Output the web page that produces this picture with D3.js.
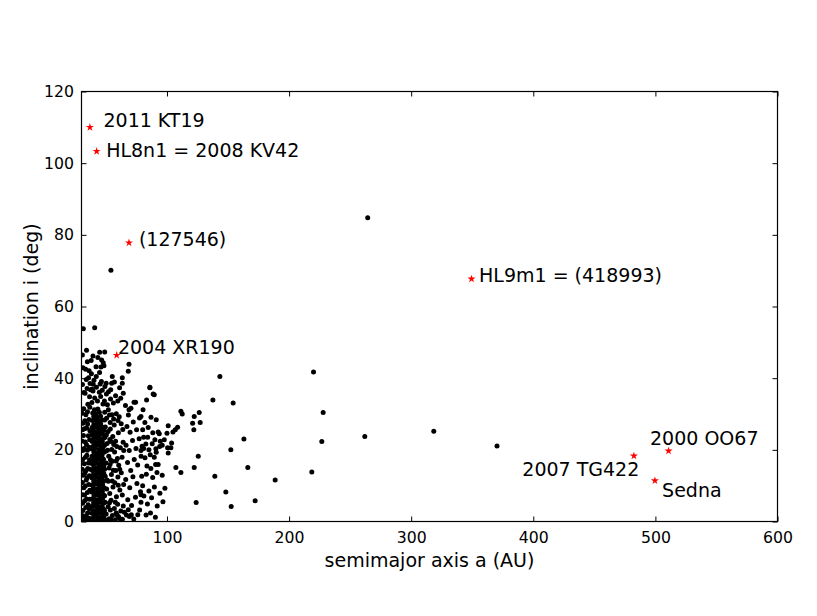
<!DOCTYPE html>
<html>
<head>
<meta charset="utf-8">
<script src="https://cdn.jsdelivr.net/npm/d3@7"></script>
<style>
  body { margin: 0; background: #fff; }
  text { font-family: "DejaVu Sans", sans-serif; }
</style>
</head>
<body>
<svg id="chart" width="817" height="616"></svg>
<script>
// axis ticks
const xTicks = [100, 200, 300, 400, 500, 600];
const yTicks = [0, 20, 40, 60, 80, 100, 120];

// isolated objects far from the main clump
const farObjects = [
  [264.4, 84.8], [54.1, 70.1], [220, 41.7], [227.9, 30.4], [226.8, 22.3], [262, 23.7],
  [318.5, 25.2], [370.3, 21.1], [218.6, 13.8], [188.6, 11.6], [143.3, 40.5], [137.6, 33.9],
  [154.2, 33.1], [163, 23.0], [152.3, 20.0], [166.2, 15.1], [139.2, 12.6], [148.2, 8.2],
  [172.2, 5.8], [152.6, 4.2], [123.9, 5.3]
];

// scattered disk objects, a 75 - 130 AU
const midObjects = [
  [86, 37.5], [89.6, 35.4], [111.4, 30.8], [112.5, 30.0], [122.3, 29.3], [126.4, 30.4],
  [91.2, 28.4], [121, 27.4], [127.2, 27.6], [122, 25.6], [78.7, 29.3], [108.7, 26.3],
  [106.8, 25.6], [104.9, 25.0], [101, 26.7], [100, 24.6], [92.8, 25.0], [93.7, 24.5],
  [80.1, 25.6], [80.9, 23.5], [84.2, 23.5], [90.1, 22.8], [94.5, 22.4], [97.8, 22.8],
  [103.8, 21.9], [96.1, 21.3], [94, 20.9], [90.9, 20.3], [103.2, 20.6], [100.5, 20.6],
  [80.9, 20.4], [85.2, 20.0], [78.7, 19.8], [101, 19.1], [91.2, 19.3], [89.6, 17.9],
  [82, 17.8], [125.6, 18.2], [83.6, 15.5], [90.7, 15.9], [92.8, 15.9], [107.3, 15.1],
  [122.3, 15.1], [111.4, 13.7], [91.8, 13.7], [88.3, 12.3], [96.1, 12.9], [79.3, 12.6],
  [80.1, 10.0], [85.2, 8.5], [78.7, 7.5], [96.7, 5.5], [92, 4.3], [78.7, 5.4], [86, 37.3],
  [88.7, 35.6], [74.3, 33.3], [68.9, 31.2],
  [81.9, 27.6], [84.6, 26.2], [86.9, 29.1], [88.4, 24.8], [82.7, 21.6], [86.3, 18.6],
  [87.9, 21.7], [83.1, 13.2], [86.8, 14.8], [81.1, 7.1], [84, 4.9], [87.4, 6.6],
  [89.7, 9.6], [82.9, 1.8], [86.5, 2.4], [90.5, 1.2], [94.2, 7.9], [98.3, 9.3],
  [80.4, 31.2], [83.3, 33.9]
];

// high-inclination objects above the main band
const highObjects = [
  [31.5, 53.8], [40.8, 54.1], [31.2, 42.9], [33.4, 42.5], [39.4, 46.2], [44.9, 47.2],
  [49, 47.3], [47.8, 44.3], [48.4, 43.5], [68.9, 43.9], [68.3, 41.9], [63.4, 40.1],
  [42.1, 40.5], [40.2, 39.4], [63.4, 38.6], [54.7, 38.6], [49.2, 37.7], [32, 36],
  [38.8, 36.9], [47, 36.6], [53.9, 36.8], [61.2, 37.3], [64.2, 35.8], [55.2, 40.5],
  [38.5, 33.2], [40.8, 34.5], [43.1, 33.6], [45.7, 34.9], [47.6, 32.8], [39.4, 36.4],
  [42.2, 37.5], [44.6, 36.1], [44.8, 41.6], [38.1, 41.2], [41.9, 43.2], [46.3, 39.1],
  [50.2, 38.6], [37, 38.5], [35.8, 40.1], [36.6, 34.8], [48.8, 33.6], [53.8, 34.2],
  [30.8, 38.2], [33.9, 39.6], [34.8, 44.6], [36.2, 42.1], [37.9, 44.9], [30.7, 46.5],
  [34.1, 47.8], [43.4, 45.8], [46.5, 45.1], [39.6, 38.3], [45.3, 38.4], [50.4, 35.6],
  [52.1, 36.2], [57.9, 35.1], [59.7, 33.6], [62.1, 34.4], [56.9, 38.9], [45.9, 43.1],
  [37.4, 36.8], [34.6, 37.1]
];

// objects inside 37 AU
const innerObjects = [
  [31.8, 31.5], [33.6, 29.8], [35.2, 32.7], [31.1, 27.4], [34.2, 26.1], [36.1, 28.5],
  [31.6, 24], [33.1, 22.2], [35.6, 23.9], [31, 19.8], [34.4, 18.5], [36.3, 20.7],
  [32.3, 16.1], [35.1, 14.8], [31.4, 12.9], [33.9, 11.6], [36.4, 12.8], [31.9, 9.4],
  [34.8, 8.1], [32.6, 5.8], [35.5, 4.7], [31.2, 3.1], [33.8, 1.6], [36.2, 0.9],
  [31.5, 0.4], [32.9, 35.8], [36.6, 17.2], [34.1, 21.4], [35.9, 10.3], [32.5, 7.4],
  [30.6, 30.2], [32.7, 28.1], [34.9, 30.6], [36.8, 31.9], [30.8, 25.6], [32.4, 25.9],
  [35, 27.2], [36.9, 25.3], [30.5, 22.5], [32.2, 20.4], [34.8, 19.9], [36.7, 22.8],
  [30.9, 17.3], [33.2, 17.9], [35.7, 16.3], [30.6, 14.6], [33.4, 14.1], [36.9, 14.6],
  [32.6, 13.5], [34.6, 12.2], [30.7, 10.9], [33.1, 9.9], [36.8, 8.7], [30.8, 7.5],
  [34.2, 6.3], [36.7, 6.2], [30.9, 5.1], [33.5, 3.9], [36.6, 3.4], [32.8, 0.9],
  [35, 2.4], [30.7, 1.7], [34.9, 0.3]
];

// classical belt, 37 - 49 AU
const beltObjects = [
  [38.4, 0.3], [41.2, 0.5], [44.1, 0.2], [47, 0.6], [39.8, 1.2], [42.7, 1.4], [45.5, 1.1], [48.3, 1.3],
  [38.7, 2.3], [41.5, 2.1], [44.3, 2.4], [47.2, 2.2], [40.1, 3.1], [42.9, 3.3], [45.8, 3.2], [48.1, 3.4],
  [38.5, 4.2], [41.3, 4.4], [44.2, 4.1], [47, 4.3], [39.9, 5.2], [42.6, 5.1], [45.6, 5.4], [48.4, 5.2],
  [38.8, 6.3], [41.6, 6.1], [44.5, 6.2], [47.3, 6.4], [40.2, 7.2], [43, 7.4], [45.9, 7.1], [48.2, 7.3],
  [38.3, 8.2], [41.4, 8.3], [44.2, 8.1], [47.1, 8.4], [39.7, 9.3], [42.8, 9.1], [45.7, 9.2], [48.5, 9.4],
  [38.6, 10.2], [41.2, 10.4], [44.4, 10.1], [47.2, 10.3], [40, 11.3], [42.9, 11.1], [45.6, 11.4], [48.1, 11.2],
  [38.5, 12.2], [41.5, 12.3], [44.3, 12.1], [46.9, 12.4], [39.8, 13.1], [42.7, 13.3], [45.8, 13.2], [48.3, 13.4],
  [38.9, 14.2], [41.3, 14.4], [44.1, 14.1], [47.1, 14.3], [40.1, 15.3], [43.1, 15.1], [45.5, 15.2], [48.2, 15.4],
  [38.4, 16.2], [41.6, 16.4], [44.4, 16.1], [47.3, 16.3], [39.9, 17.1], [42.8, 17.3], [45.7, 17.2], [48, 17.4],
  [38.7, 18.2], [41.4, 18.3], [44.2, 18.1], [46.8, 18.4], [40.2, 19.3], [42.9, 19.1], [45.9, 19.2], [48.4, 19.3],
  [38.5, 20.2], [41.2, 20.4], [44.5, 20.1], [47.2, 20.3], [39.7, 21.1], [42.6, 21.3], [45.6, 21.2], [48.1, 21.4],
  [38.8, 22.3], [41.5, 22.1], [44.3, 22.2], [47, 22.4], [40, 23.2], [43, 23.4], [45.8, 23.1], [48.3, 23.3],
  [38.4, 24.2], [41.3, 24.3], [44.1, 24.1], [47.1, 24.4], [39.8, 25.3], [42.7, 25.1], [45.5, 25.2], [48.2, 25.4],
  [38.6, 26.2], [41.6, 26.4], [44.4, 26.1], [47.3, 26.3], [40.1, 27.1], [42.9, 27.3], [45.7, 27.2],
  [38.9, 28.2], [41.4, 28.4], [44.2, 28.1], [46.9, 28.3], [40, 29.3], [42.8, 29.1], [45.6, 29.4],
  [39.2, 30.3], [41.9, 30.1], [44.6, 30.5], [40.6, 31.2], [43.4, 31.4]
];

// objects between 48 and 80 AU
const outerObjects = [
  [49, 30.5], [50.5, 28.8], [52, 31.2], [49.5, 26.4], [51.8, 25.1], [53.5, 27.6], [55, 29.8],
  [56.8, 26.9], [58.5, 30.1], [49.2, 23.5], [51, 21.8], [53.2, 22.9], [55.6, 23.7], [57.9, 22.4],
  [60.2, 24.8], [62.5, 27.3], [49.8, 19.6], [52.3, 18.2], [54.7, 20.1], [57.1, 19.4], [59.4, 17.6],
  [61.8, 20.6], [64.1, 22.1], [50.1, 16.3], [52.6, 14.9], [55.2, 16.8], [58, 14.2], [60.5, 15.7],
  [63.2, 17.9], [49.4, 12.6], [51.9, 11.2], [54.5, 13.1], [57.3, 10.8], [59.8, 12.4], [62.6, 13.6],
  [50.6, 9.1], [53.1, 7.8], [55.8, 9.6], [58.6, 6.9], [61.4, 8.8], [64.5, 10.3], [49.3, 5.4],
  [51.8, 4.1], [54.2, 5.9], [56.9, 3.6], [59.6, 4.8], [62.2, 2.9], [50.2, 2.1], [52.7, 0.8],
  [55.3, 1.7], [57.8, 0.5], [60.4, 1.3], [63.5, 0.6], [66.8, 1.8], [66, 32.4], [68.4, 29.7],
  [70.5, 31.6], [73, 33.3], [67.2, 26.5], [69.8, 24.9], [72.4, 27.8], [75.1, 25.6], [77.5, 28.9],
  [66.5, 21.3], [69.1, 19.8], [71.8, 22.6], [74.6, 20.4], [77.2, 23.1], [79.6, 21], [67.7, 16.5],
  [70.3, 14.2], [73.2, 17.3], [76, 15.8], [78.8, 18.2], [66.2, 11.7], [69.5, 9.4], [72.1, 12.5],
  [75.4, 10.6], [78.3, 8.3], [67.9, 6.1], [71, 4.5], [74.2, 6.8], [77.6, 3.2], [69.2, 1.4],
  [72.8, 0.7], [76.1, 1.9], [51.2, 32.6], [56.1, 33.1], [59.9, 28.2], [53.6, 25.8], [56.4, 21.5],
  [48.9, 28.3], [52.9, 29.7], [56.3, 28.6], [60.9, 29.2], [48.8, 21.2], [50.4, 24.2],
  [54.1, 22.3], [58.9, 20.9], [63.8, 25.7], [51.3, 19.9], [53.7, 17.2], [58.4, 16.9],
  [64.6, 19.8], [48.9, 14.6], [53.4, 15.9], [56.1, 14.3], [61.3, 14.6], [50.9, 11.6],
  [55.2, 11.3], [60.1, 10.1], [48.9, 7.2], [52.9, 5.2], [57.7, 5.4], [63.4, 7.4],
  [48.8, 3.1], [53.6, 3.2], [58.4, 2.4], [64.2, 4.3], [49.6, 0.4], [54.1, 0.6],
  [59.1, 1.9], [61.8, 0.7], [65.1, 2.6], [68.3, 3.3], [70.8, 1.9]
];

// highlighted objects
const starNames = ["2011 KT19", "HL8n1 = 2008 KV42", "(127546)", "2004 XR190",
  "HL9m1 = (418993)", "2000 OO67", "2007 TG422", "Sedna"];
const starA = [36.9, 42.4, 68.9, 58.8, 349.4, 510.8, 482.4, 499.6];
const starI = [110.0, 103.3, 77.8, 46.4, 67.7, 19.7, 18.3, 11.4];
// where each annotation text sits (data coords, text start / baseline)
const labelA = [48.0, 50.2, 77.0, 59.8, 355.6, 495.6, 391.0, 505.5];
const labelI = [110.0, 101.7, 76.8, 46.7, 66.7, 21.4, 12.7, 6.75];

const allObjects = [].concat(farObjects, midObjects, highObjects, innerObjects, beltObjects, outerObjects);

const svg = d3.select("#chart");
const plotLeft = 81.5, plotRight = 777.5, plotTop = 91.5, plotBottom = 521.5;

const x = d3.scaleLinear().domain([30, 600]).range([plotLeft, plotRight]);
const y = d3.scaleLinear().domain([0, 120]).range([plotBottom, plotTop]);

svg.append("rect").attr("width", 817).attr("height", 616).attr("fill", "#fff");

svg.append("defs").append("clipPath").attr("id", "plotClip")
  .append("rect")
  .attr("x", plotLeft).attr("y", plotTop)
  .attr("width", plotRight - plotLeft).attr("height", plotBottom - plotTop);

svg.append("g")
  .attr("clip-path", "url(#plotClip)")
  .selectAll("circle")
  .data(allObjects)
  .join("circle")
  .attr("cx", d => x(d[0]))
  .attr("cy", d => y(d[1]))
  .attr("r", 2.5)
  .attr("fill", "#000");

svg.append("g")
  .selectAll("path")
  .data(starA.map((a, k) => [a, starI[k]]))
  .join("path")
  .attr("d", d3.symbol(d3.symbolStar, 20))
  .attr("transform", d => `translate(${x(d[0])},${y(d[1])})`)
  .attr("fill", "#ff0000");

svg.append("g")
  .selectAll("text")
  .data(starNames)
  .join("text")
  .attr("x", (d, k) => x(labelA[k]))
  .attr("y", (d, k) => y(labelI[k]))
  .attr("font-size", 19)
  .attr("fill", "#000")
  .text(d => d);

// axes, ticks pointing inward on all four sides
function styleAxis(g) {
  g.select(".domain").remove();
  g.selectAll(".tick line").attr("stroke", "#000").attr("stroke-width", 1);
  g.selectAll(".tick text").attr("fill", "#000").attr("font-size", 15.7)
    .attr("font-family", "DejaVu Sans, sans-serif");
}

svg.append("g").attr("transform", `translate(0,${plotBottom})`)
  .call(d3.axisBottom(x).tickValues(xTicks).tickSize(-5).tickPadding(10.5).tickFormat(d3.format("d")))
  .call(styleAxis);
svg.append("g").attr("transform", `translate(0,${plotTop})`)
  .call(d3.axisTop(x).tickValues(xTicks).tickSize(-5).tickFormat(""))
  .call(styleAxis);
svg.append("g").attr("transform", `translate(${plotLeft},0)`)
  .call(d3.axisLeft(y).tickValues(yTicks).tickSize(-5).tickPadding(7.5).tickFormat(d3.format("d")))
  .call(styleAxis);
svg.append("g").attr("transform", `translate(${plotRight},0)`)
  .call(d3.axisRight(y).tickValues(yTicks).tickSize(-5).tickFormat(""))
  .call(styleAxis);

svg.append("rect")
  .attr("x", plotLeft).attr("y", plotTop)
  .attr("width", plotRight - plotLeft).attr("height", plotBottom - plotTop)
  .attr("fill", "none").attr("stroke", "#000").attr("stroke-width", 1.2);

svg.append("text")
  .attr("x", (plotLeft + plotRight) / 2).attr("y", 567)
  .attr("text-anchor", "middle").attr("font-size", 19)
  .text("semimajor axis a (AU)");

svg.append("text")
  .attr("transform", `translate(38,${(plotTop + plotBottom) / 2}) rotate(-90)`)
  .attr("text-anchor", "middle").attr("font-size", 19)
  .text("inclination i (deg)");
</script>
</body>
</html>
